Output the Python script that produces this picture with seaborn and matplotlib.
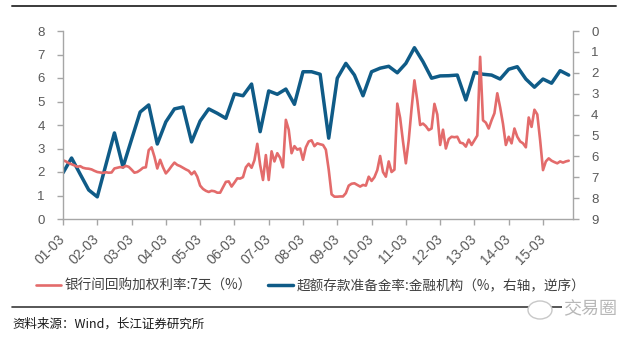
import matplotlib
matplotlib.use("Agg")
import matplotlib.pyplot as plt
from matplotlib.lines import Line2D
from matplotlib.patches import Ellipse
import numpy as np
import pandas as pd
import seaborn as sns

# 7-day interbank repo weighted rate, monthly from 2001-03 (%)
repo_rate = [
    2.50, 2.45, 2.38, 2.33, 2.28, 2.22, 2.25, 2.18, 2.15, 2.14, 2.11, 2.05,
    2.00, 1.98, 1.96, 1.99, 1.97, 1.98, 2.15, 2.18, 2.21, 2.19, 2.26, 2.22,
    2.10, 1.97, 2.00, 2.08, 2.18, 2.20, 2.93, 3.05, 2.65, 2.15, 2.52, 2.20,
    1.94, 2.08, 2.25, 2.40, 2.30, 2.25, 2.18, 2.11, 2.05, 1.90, 2.02, 1.80,
    1.42, 1.28, 1.20, 1.15, 1.20, 1.18, 1.12, 1.12, 1.35, 1.58, 1.60, 1.38,
    1.55, 1.73, 1.72, 1.78, 2.20, 2.35, 2.18, 2.50, 3.20, 2.30, 1.66, 2.72,
    1.66, 2.88, 2.45, 2.80, 2.60, 2.20, 4.22, 3.80, 2.80, 3.10, 2.95, 3.00,
    2.52, 3.05, 3.30, 3.35, 3.10, 3.22, 3.18, 3.15, 2.95, 2.10, 1.05, 0.95,
    0.95, 0.96, 0.96, 1.10, 1.42, 1.50, 1.52, 1.45, 1.38, 1.45, 1.42, 1.80,
    1.62, 1.78, 2.08, 2.68, 2.00, 1.80, 2.45, 2.00, 2.10, 4.91, 4.30, 3.30,
    2.37, 3.35, 4.70, 5.90, 5.05, 4.00, 4.06, 3.95, 3.78, 3.85, 4.90, 4.45,
    3.15, 3.80, 3.00, 3.40, 3.50, 3.48, 3.50, 3.25, 3.22, 3.08, 3.38, 3.15,
    3.35, 3.55, 6.90, 4.20, 4.10, 3.85, 4.20, 4.50, 5.35, 4.75, 4.05, 3.15,
    3.50, 3.22, 3.85, 3.50, 3.30, 3.22, 3.05, 4.32, 3.92, 4.65, 4.45, 3.35,
    2.08, 2.45, 2.58, 2.48, 2.42, 2.37, 2.45, 2.40, 2.45, 2.48,
]

# Excess reserve ratio of financial institutions, quarterly from 2001-03 (%)
excess_reserve = [
    6.79, 6.08, 6.85, 7.61, 7.94, 6.41, 4.88, 6.51, 5.19, 3.88, 3.54, 5.41,
    4.35, 3.73, 3.64, 5.31, 4.31, 3.73, 3.94, 4.18, 3.01, 3.10, 2.54, 4.82,
    2.87, 3.03, 2.78, 3.51, 1.95, 1.95, 2.07, 5.13, 2.26, 1.55, 2.11, 3.10,
    1.95, 1.78, 1.69, 2.00, 1.55, 0.80, 1.47, 2.26, 2.15, 2.14, 2.11, 3.30,
    1.98, 2.07, 2.11, 2.30, 1.83, 1.71, 2.30, 2.69, 2.30, 2.50, 1.90, 2.11,
]

year_labels = ["01-03", "02-03", "03-03", "04-03", "05-03", "06-03", "07-03",
               "08-03", "09-03", "10-03", "11-03", "12-03", "13-03", "14-03",
               "15-03"]

repo_label = "银行间回购加权利率:7天（%）"
reserve_label = "超额存款准备金率:金融机构（%，右轴，逆序）"

repo_df = pd.DataFrame({"month": np.arange(len(repo_rate)), "rate": repo_rate})
reserve_df = pd.DataFrame({"month": np.arange(len(excess_reserve)) * 3,
                           "ratio": excess_reserve})

sns.set_style("white")
plt.rcParams["font.family"] = ["Liberation Sans", "Noto Sans CJK SC", "DejaVu Sans"]

RED = "#E36B6B"
BLUE = "#0F5B87"
AXIS = "#A6A6A6"
TICKTXT = "#595959"

fig = plt.figure(figsize=(6.4, 3.41), dpi=100)
ax = fig.add_axes([63 / 640, 1 - 219 / 341, 510 / 640, 188 / 341])
ax2 = ax.twinx()

sns.lineplot(data=reserve_df, x="month", y="ratio", ax=ax2, color=BLUE,
             linewidth=2.5, legend=False)
sns.lineplot(data=repo_df, x="month", y="rate", ax=ax, color=RED,
             linewidth=1.9, legend=False)

# keep the repo line above the reserve line
ax.set_zorder(ax2.get_zorder() + 1)
ax.patch.set_visible(False)

ax.set_xlim(0, 178.5)
ax.set_ylim(0, 8)
ax2.set_ylim(9, 0)
ax.set_yticks(range(0, 9))
ax2.set_yticks(range(0, 10))
ax.set_xticks(np.arange(len(year_labels)) * 12)
ax.set_xticklabels(year_labels, rotation=45, ha="right", va="center",
                   rotation_mode="anchor")
ax.set_xlabel("")
ax.set_ylabel("")
ax2.set_ylabel("")

for a in (ax, ax2):
    for s in a.spines.values():
        s.set_visible(False)
ax.spines["left"].set_visible(True)
ax.spines["bottom"].set_visible(True)
ax2.spines["right"].set_visible(True)
for s in (ax.spines["left"], ax.spines["bottom"], ax2.spines["right"]):
    s.set_color(AXIS)
    s.set_linewidth(1.0)

ax.tick_params(axis="y", direction="out", length=4, width=1, color=AXIS,
               labelcolor=TICKTXT, labelsize=9.5, pad=9, left=True)
ax.tick_params(axis="x", direction="out", length=4, width=1, color=AXIS,
               labelcolor=TICKTXT, labelsize=10, pad=9, bottom=True)
ax2.tick_params(axis="y", direction="out", length=4, width=1, color=AXIS,
                labelcolor=TICKTXT, labelsize=9.5, pad=9, right=True)
ax.grid(False)
ax2.grid(False)

cjk = ["Noto Sans CJK SC", "DejaVu Sans"]
handles = [Line2D([], [], color=RED, lw=1.9), Line2D([], [], color=BLUE, lw=2.5)]
fig.legend(handles, [repo_label, reserve_label], loc="center left",
           bbox_to_anchor=(36 / 640, 1 - 286 / 341), ncol=2, frameon=False,
           prop={"family": cjk, "size": 9.8}, labelcolor="#404040",
           handlelength=1.8, handletextpad=0.3, columnspacing=1.2,
           borderaxespad=0, borderpad=0)

# header and footer rules
fig.add_artist(Line2D([12 / 640, 616 / 640], [1 - 6 / 341] * 2,
                      color="#3A3A3A", lw=1.4))
fig.add_artist(Line2D([12 / 640, 616 / 640], [1 - 307 / 341] * 2,
                      color="#3A3A3A", lw=1.2))
fig.text(12 / 640, 1 - 324 / 341, "资料来源：Wind，长江证券研究所",
         family=cjk, fontsize=9, color="#1A1A1A", va="center", ha="left")

# watermark
fig.patches.append(Ellipse((540 / 640, 1 - 310 / 341), 24 / 640, 18 / 341,
                           transform=fig.transFigure, facecolor="white",
                           edgecolor="#C8C8C8", lw=1.0, zorder=5))
fig.text(590 / 640, 1 - 309 / 341, "交易圈", family=cjk, fontsize=13,
         color="#B8B8B8", va="center", ha="center", zorder=6,
         bbox=dict(facecolor="white", edgecolor="none", pad=0.5))

fig.savefig("out.png", dpi=100, facecolor="white")
